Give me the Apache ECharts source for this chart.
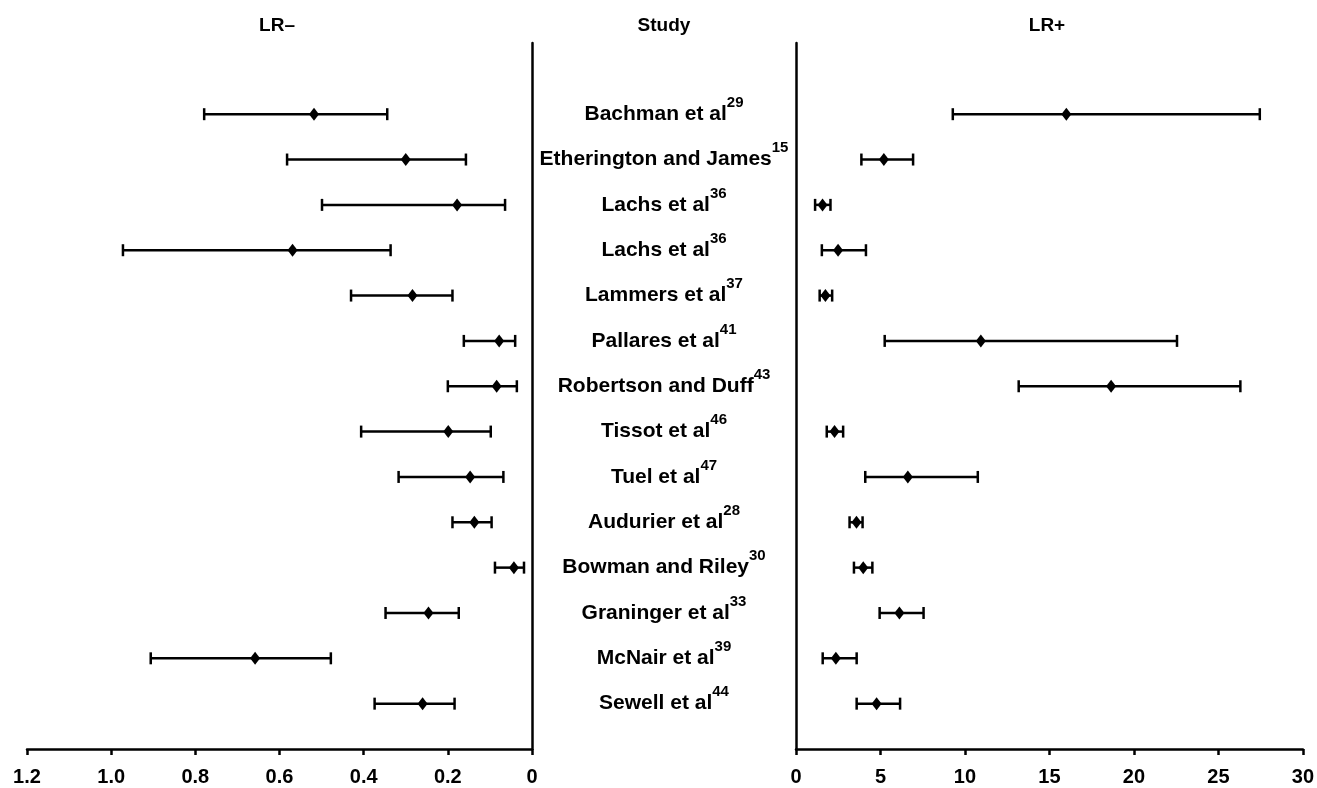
<!DOCTYPE html>
<html>
<head>
<meta charset="utf-8">
<title>LR- / LR+ forest plot</title>
<script src="https://cdn.jsdelivr.net/npm/echarts@6/dist/echarts.min.js"></script>
<style>
html, body { margin: 0; padding: 0; background: #fff; }
#chart { width: 1317px; height: 788px; }
</style>
</head>
<body>
<div id="chart"></div>
<script>
var studies = ['Bachman et al', 'Etherington and James', 'Lachs et al', 'Lachs et al', 'Lammers et al',
    'Pallares et al', 'Robertson and Duff', 'Tissot et al', 'Tuel et al', 'Audurier et al',
    'Bowman and Riley', 'Graninger et al', 'McNair et al', 'Sewell et al'];
var refs = ['29', '15', '36', '36', '37', '41', '43', '46', '47', '28', '30', '33', '39', '44'];

// negative likelihood ratio: point, lower, upper
var lrNeg = [0.518, 0.300, 0.178, 0.569, 0.284, 0.078, 0.084, 0.199, 0.147, 0.137, 0.043, 0.246, 0.658, 0.260];
var lrNegLo = [0.344, 0.157, 0.064, 0.336, 0.189, 0.040, 0.036, 0.098, 0.068, 0.096, 0.019, 0.174, 0.478, 0.184];
var lrNegHi = [0.779, 0.582, 0.499, 0.972, 0.430, 0.162, 0.200, 0.406, 0.317, 0.189, 0.088, 0.348, 0.906, 0.374];

// positive likelihood ratio: point, lower, upper
var lrPos = [16.0, 5.2, 1.57, 2.49, 1.74, 10.94, 18.65, 2.28, 6.62, 3.58, 3.98, 6.12, 2.36, 4.77];
var lrPosLo = [9.28, 3.87, 1.13, 1.53, 1.40, 5.25, 13.18, 1.82, 4.10, 3.17, 3.43, 4.95, 1.58, 3.59];
var lrPosHi = [27.45, 6.93, 2.04, 4.14, 2.14, 22.55, 26.3, 2.79, 10.76, 3.94, 4.52, 7.55, 3.59, 6.16];

var negTicks = [0, 0.2, 0.4, 0.6, 0.8, 1.0, 1.2];
var posTicks = [0, 5, 10, 15, 20, 25, 30];

var headers = ['LR\u2013', 'Study', 'LR+'];

var FONT = "'Liberation Sans', Arial, Helvetica, sans-serif";

function pointData(vals) {
    var out = [];
    for (var i = 0; i < vals.length; ++i) {
        out.push([vals[i], i]);
    }
    return out;
}

function barData(lo, hi) {
    var out = [];
    for (var i = 0; i < lo.length; ++i) {
        out.push([i, lo[i], hi[i]]);
    }
    return out;
}

function renderBar(params, api) {
    var y = api.value(0);
    var a = api.coord([api.value(1), y]);
    var b = api.coord([api.value(2), y]);
    var st = { stroke: '#000', lineWidth: 2.5 };
    return {
        type: 'group',
        children: [
            { type: 'line', shape: { x1: a[0], y1: a[1], x2: b[0], y2: b[1] }, style: st },
            { type: 'line', shape: { x1: a[0], y1: a[1] - 6, x2: a[0], y2: a[1] + 6 }, style: st },
            { type: 'line', shape: { x1: b[0], y1: b[1] - 6, x2: b[0], y2: b[1] + 6 }, style: st }
        ]
    };
}

function valueX(grid, ticks, inverse) {
    var max = ticks[ticks.length - 1];
    return {
        type: 'value',
        gridIndex: grid,
        min: ticks[0],
        max: max,
        interval: ticks[1] - ticks[0],
        inverse: inverse,
        axisLine: { show: true, onZero: false, lineStyle: { color: '#000', width: 2.5 } },
        axisTick: { show: true, length: 6, lineStyle: { color: '#000', width: 2.5 } },
        splitLine: { show: false },
        axisLabel: {
            margin: 18,
            color: '#000',
            fontFamily: FONT,
            fontWeight: 'bold',
            fontSize: 20,
            formatter: function (v) {
                return (max < 5 && v != 0) ? v.toFixed(1) : String(v);
            }
        }
    };
}

function rowY(grid, pos, showLine) {
    return {
        type: 'value',
        gridIndex: grid,
        inverse: true,
        min: -1.57,
        max: 14.0,
        position: pos,
        axisLine: { show: showLine, onZero: false, lineStyle: { color: '#000', width: 2.5 } },
        axisTick: { show: false },
        axisLabel: { show: false },
        splitLine: { show: false }
    };
}

function diamonds(axis, vals) {
    return {
        type: 'scatter',
        xAxisIndex: axis,
        yAxisIndex: axis,
        symbol: 'diamond',
        symbolSize: [10, 13],
        itemStyle: { color: '#000', opacity: 1 },
        data: pointData(vals),
        z: 3
    };
}

function bars(axis, lo, hi) {
    return {
        type: 'custom',
        xAxisIndex: axis,
        yAxisIndex: axis,
        renderItem: renderBar,
        encode: { x: [1, 2], y: 0 },
        data: barData(lo, hi),
        z: 2
    };
}

var labelData = [];
for (var i = 0; i < studies.length; ++i) {
    labelData.push({ value: [0.5, i], name: studies[i], ref: refs[i] });
}

var headerX = [277, 664, 1047];
var headerText = [];
for (var h = 0; h < headers.length; ++h) {
    headerText.push({
        type: 'text',
        x: headerX[h],
        y: 26,
        style: {
            text: headers[h],
            fill: '#000',
            font: 'bold 19px ' + FONT,
            textAlign: 'center',
            textVerticalAlign: 'middle'
        }
    });
}

var option = {
    backgroundColor: '#fff',
    animation: false,
    graphic: headerText,
    grid: [
        { left: 27, right: 785, top: 43, bottom: 39 },
        { left: 796, right: 13, top: 43, bottom: 39 },
        { left: 532, right: 521, top: 43, bottom: 39 }
    ],
    xAxis: [
        valueX(0, negTicks, true),
        valueX(1, posTicks, false),
        { type: 'value', gridIndex: 2, min: 0, max: 1, show: false }
    ],
    yAxis: [
        rowY(0, 'right', true),
        rowY(1, 'left', true),
        rowY(2, 'left', false)
    ],
    series: [
        bars(0, lrNegLo, lrNegHi),
        diamonds(0, lrNeg),
        bars(1, lrPosLo, lrPosHi),
        diamonds(1, lrPos),
        {
            type: 'scatter',
            xAxisIndex: 2,
            yAxisIndex: 2,
            symbolSize: 0,
            itemStyle: { opacity: 1 },
            data: labelData,
            label: {
                show: true,
                position: 'inside',
                formatter: function (p) {
                    return '{n|' + p.data.name + '}{s|' + p.data.ref + '}';
                },
                rich: {
                    n: { color: '#000', fontFamily: FONT, fontWeight: 'bold', fontSize: 21, lineHeight: 38 },
                    s: { color: '#000', fontFamily: FONT, fontWeight: 'bold', fontSize: 15, lineHeight: 14, verticalAlign: 'top' }
                }
            }
        }
    ]
};

var chart = echarts.init(document.getElementById('chart'), null, { renderer: 'canvas' });
chart.setOption(option);
</script>
</body>
</html>
